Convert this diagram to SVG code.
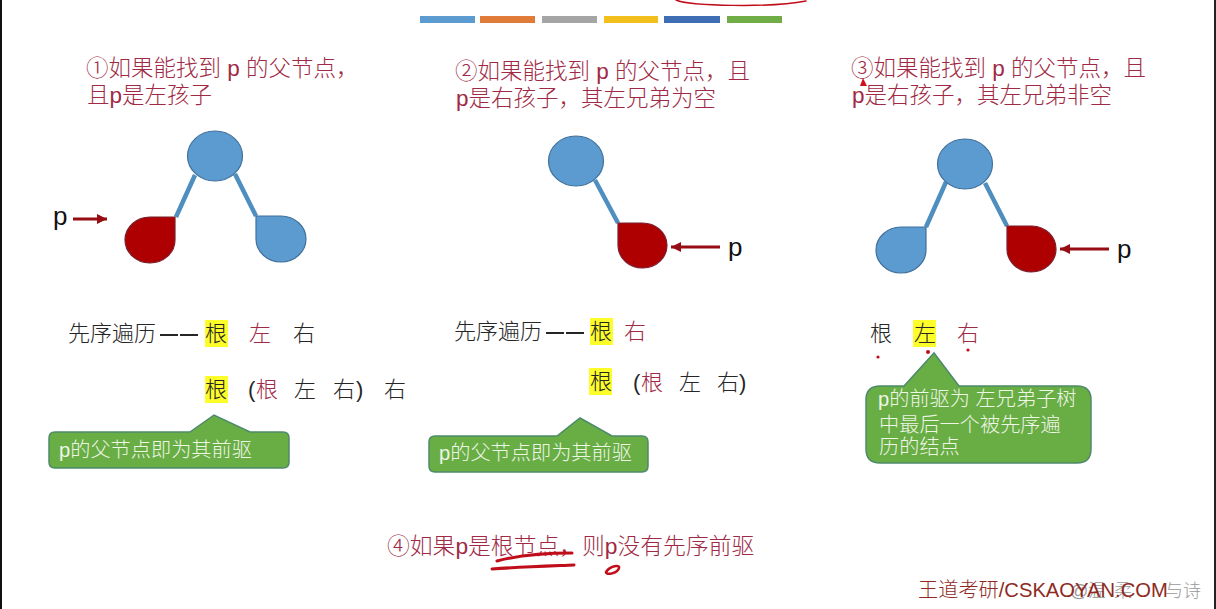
<svg xmlns="http://www.w3.org/2000/svg" width="1216" height="609" viewBox="0 0 1216 609">
<style>
text{font-family:"Liberation Sans","Noto Sans CJK SC",sans-serif;font-weight:300}
.h{font-size:22.5px;fill:#a02a45}
.h4{font-size:22.8px;fill:#a02a45}
.b{font-size:22px;fill:#262626}
.r{font-size:22px;fill:#a02a45}
.p{font-size:26px;fill:#111}
.c{font-size:20.2px;fill:#eef6e6}
.blue{fill:#5b9bd0;stroke:#41719c;stroke-width:1.2}
.red{fill:#ae0000;stroke:#7a2030;stroke-width:1.2}
.edge{stroke:#4f8fbf;stroke-width:4.5;fill:none}
.arrow{stroke:#960c12;stroke-width:3;fill:none;marker-end:url(#ah)}
.call{fill:#69ad45;stroke:#4d8a6a;stroke-width:1.5}
.y{fill:#fdfd2a}
.ink{stroke:#c00d1a;fill:none;stroke-linecap:round}
.dash{stroke:#262626;stroke-width:2;fill:none}
</style>
<defs><marker id="ah" markerUnits="userSpaceOnUse" markerWidth="11" markerHeight="11" refX="10" refY="5" orient="auto"><path d="M0,0L10,5L0,10Z" fill="#960c12"/></marker></defs>
<rect width="1216" height="609" fill="#fff"/>
<rect x="0" y="0" width="2" height="609" fill="#111"/>
<rect x="1214" y="0" width="2" height="609" fill="#222"/>
<g id="bars">
<rect x="420" y="16" width="55" height="7" fill="#5b9bd0"/>
<rect x="480" y="16" width="55" height="7" fill="#e07b39"/>
<rect x="542" y="16" width="55" height="7" fill="#a5a5a5"/>
<rect x="604" y="16" width="54" height="7" fill="#f2bf1d"/>
<rect x="664" y="16" width="56" height="7" fill="#3f6eb5"/>
<rect x="727" y="16" width="55" height="7" fill="#70ad47"/>
</g>
<path class="ink" stroke-width="1.5" d="M676,0C690,6 770,8 806,1"/>
<g id="connectors">
<path class="edge" d="M195,175L176,217M235,174L256,216"/>
<path class="edge" d="M595,180L618,223"/>
<path class="edge" d="M946,182L926,227M985,183L1007,226"/>
<path class="arrow" d="M73,219H107"/>
<path class="arrow" d="M720,247H671"/>
<path class="arrow" d="M1109,249H1060"/>
</g>
<g id="case1">
<text class="h" x="86" y="76">①如果能找到 p 的父节点，</text>
<text class="h" x="87" y="103">且p是左孩子</text>
<text class="p" x="53" y="225">p</text>
<ellipse class="blue" cx="215" cy="156" rx="27.5" ry="25"/>
<path id="n1-left" class="red" d="M175,217H151A25,23 0 1 0 175,240Z"/>
<path id="n1-right" class="blue" d="M256,216H281A25,23 0 1 1 256,239Z"/>
<text class="b" x="68" y="341">先序遍历</text>
<path class="dash" d="M160,335H178M180,335H198"/>
<rect class="y" x="205" y="320" width="23" height="27"/>
<text class="b" x="205" y="341">根</text>
<text class="r" x="249" y="341">左</text>
<text class="b" x="293" y="341">右</text>
<rect class="y" x="205" y="376" width="23" height="27"/>
<text class="b" x="205" y="397">根</text>
<text class="b" x="248" y="397">(</text>
<text class="r" x="256" y="397">根</text>
<text class="b" x="294" y="397">左</text>
<text class="b" x="333" y="397">右</text>
<text class="b" x="356" y="397">)</text>
<text class="b" x="384" y="397">右</text>
<path class="call" d="M55,432H190L214,415L250,432H283Q289,432 289,438V462Q289,468 283,468H55Q49,468 49,462V438Q49,432 55,432Z"/>
<text class="c" x="59" y="457">p的父节点即为其前驱</text>
</g>
<g id="case2">
<text class="h" x="455" y="79">②如果能找到 p 的父节点，且</text>
<text class="h" x="456" y="106">p是右孩子，其左兄弟为空</text>
<text class="p" x="728" y="256">p</text>
<ellipse class="blue" cx="576" cy="161" rx="27.5" ry="25"/>
<path id="n2-right" class="red" d="M618,223H642A24.5,22.5 0 1 1 618,246Z"/>
<text class="b" x="454" y="339">先序遍历</text>
<path class="dash" d="M546,333H564M566,333H584"/>
<rect class="y" x="590" y="318" width="23" height="27"/>
<text class="b" x="590" y="339">根</text>
<text class="r" x="624" y="339">右</text>
<rect class="y" x="589" y="368" width="23" height="27"/>
<text class="b" x="590" y="389">根</text>
<text class="b" x="633" y="390">(</text>
<text class="r" x="641" y="390">根</text>
<text class="b" x="679" y="390">左</text>
<text class="b" x="717" y="390">右</text>
<text class="b" x="739" y="390">)</text>
<path class="call" d="M435,436H557L580,418L612,436H642Q648,436 648,442V466Q648,472 642,472H435Q429,472 429,466V442Q429,436 435,436Z"/>
<text class="c" x="439" y="460">p的父节点即为其前驱</text>
</g>
<g id="case3">
<text class="h" x="851" y="76">③如果能找到 p 的父节点，且</text>
<text class="h" x="852" y="103">p是右孩子，其左兄弟非空</text>
<path d="M860,86L863,78L867,86Z" fill="#d01020"/>
<text class="p" x="1117" y="258">p</text>
<ellipse class="blue" cx="965" cy="164" rx="27.5" ry="25"/>
<path id="n3-left" class="blue" d="M926,227H901A25,23 0 1 0 926,250Z"/>
<path id="n3-right" class="red" d="M1007,226H1032A24.5,23 0 1 1 1007,249Z"/>
<text class="b" x="870" y="341">根</text>
<rect class="y" x="913" y="320" width="23" height="27"/>
<text class="b" x="914" y="341">左</text>
<text class="r" x="957" y="341">右</text>
<path class="call" d="M904,386L934,353L959,386H1077Q1091,386 1091,400V449Q1091,463 1077,463H880Q866,463 866,449V400Q866,386 880,386Z"/>
<text class="c" x="878" y="406">p的前驱为 左兄弟子树</text>
<text class="c" x="879" y="432">中最后一个被先序遍</text>
<text class="c" x="879" y="454">历的结点</text>
<g fill="#c00d1a"><circle cx="878" cy="357" r="1.6"/><circle cx="928" cy="352" r="2"/><circle cx="968" cy="350" r="1.6"/></g>
</g>
<g id="case4">
<text class="h4" x="387" y="554">④如果p是根节点，则p没有先序前驱</text>
<path class="ink" stroke-width="3" d="M497,561C520,555 550,553 572,553"/>
<path class="ink" stroke-width="3" d="M492,569C520,567 550,566 574,565"/>
<path class="ink" stroke-width="2.5" d="M606,572C610,566 620,564 619,568C618,573 606,576 606,572Z"/>
</g>
<g id="watermark">
<text x="1070 1088 1114 1165 1183" y="597" font-size="18" fill="#999">@温柔与诗</text>
<text x="918" y="597" font-size="20.2" fill="#8e2a22">王道考研/CSKAOYAN.COM</text>
</g>
</svg>
